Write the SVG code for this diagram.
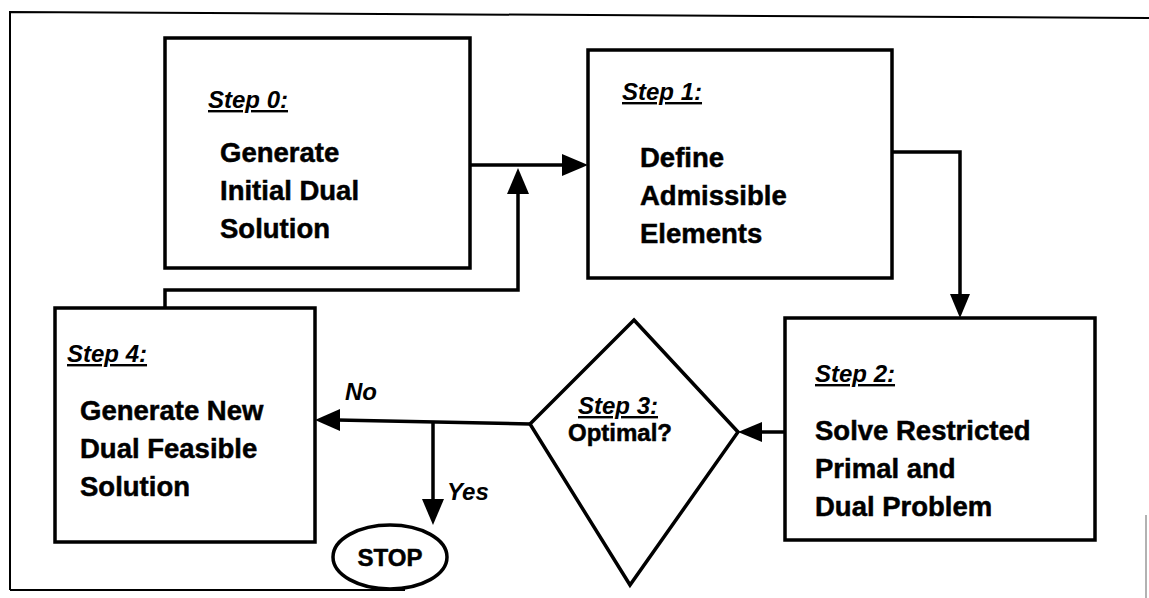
<svg xmlns="http://www.w3.org/2000/svg" width="1149" height="598" viewBox="0 0 1149 598">
<style>
.box{fill:#fff;stroke:#000;stroke-width:3.5}
.ln{fill:none;stroke:#000;stroke-width:3.5}
.frame{fill:none;stroke:#000;stroke-width:2}
.t{font-family:"Liberation Sans",Arial,sans-serif;font-weight:bold;font-size:27.5px;fill:#000;stroke:#000;stroke-width:0.5}
.h{font-family:"Liberation Sans",Arial,sans-serif;font-weight:bold;font-style:italic;font-size:24px;fill:#000;text-decoration:underline}
.lb{font-family:"Liberation Sans",Arial,sans-serif;font-weight:bold;font-style:italic;font-size:24px;fill:#000}
</style>
<rect width="1149" height="598" fill="#fff"/>
<g id="frame">
<path class="frame" d="M10,590 L10,12 L1149,18"/>
<path class="frame" d="M10,590 L405,590"/>
<path d="M1146,515 L1146,598" stroke="#999" stroke-width="1.5" fill="none"/>
</g>
<g id="connectors">
<path class="ln" d="M470,165 L566,165"/>
<polygon points="588,165 562,154 562,176"/>
<path class="ln" d="M165,308 L165,290 L518,290 L518,192"/>
<polygon points="518,168 507,194 529,194"/>
<path class="ln" d="M892,152 L960,152 L960,298"/>
<polygon points="960,318 950,294 970,294"/>
<path class="ln" d="M785,432 L760,432"/>
<polygon points="738,432 762,422 762,442"/>
<path class="ln" d="M530,424 L337,420"/>
<polygon points="315,420 340,409 340,431"/>
<path class="ln" d="M433,421 L433,503"/>
<polygon points="433,525 422,499 444,499"/>
<text class="lb" x="345" y="400">No</text>
<text class="lb" x="447" y="500">Yes</text>
</g>
<g id="step0">
<rect class="box" x="165" y="38" width="305" height="230"/>
<text class="h" x="208" y="108">Step 0:</text>
<text class="t" x="220" y="162">Generate</text>
<text class="t" x="220" y="200">Initial Dual</text>
<text class="t" x="220" y="238">Solution</text>
</g>
<g id="step1">
<rect class="box" x="588" y="50" width="304" height="228"/>
<text class="h" x="622" y="100">Step 1:</text>
<text class="t" x="640" y="167">Define</text>
<text class="t" x="640" y="205">Admissible</text>
<text class="t" x="640" y="243">Elements</text>
</g>
<g id="step2">
<rect class="box" x="785" y="318" width="310" height="222"/>
<text class="h" x="815" y="382">Step 2:</text>
<text class="t" x="815" y="440">Solve Restricted</text>
<text class="t" x="815" y="478">Primal and</text>
<text class="t" x="815" y="516">Dual Problem</text>
</g>
<g id="step3">
<polygon class="box" points="634,320 738,432 630,585 530,424"/>
<text class="h" x="578" y="414">Step 3:</text>
<text class="t" x="568" y="441" style="font-size:24px">Optimal?</text>
</g>
<g id="step4">
<rect class="box" x="55" y="308" width="260" height="234"/>
<text class="h" x="67" y="362">Step 4:</text>
<text class="t" x="80" y="420">Generate New</text>
<text class="t" x="80" y="458">Dual Feasible</text>
<text class="t" x="80" y="496">Solution</text>
</g>
<g id="stop">
<ellipse class="box" cx="390" cy="557" rx="57" ry="32"/>
<text class="t" x="390" y="566" text-anchor="middle" style="font-size:24px">STOP</text>
</g>
</svg>
